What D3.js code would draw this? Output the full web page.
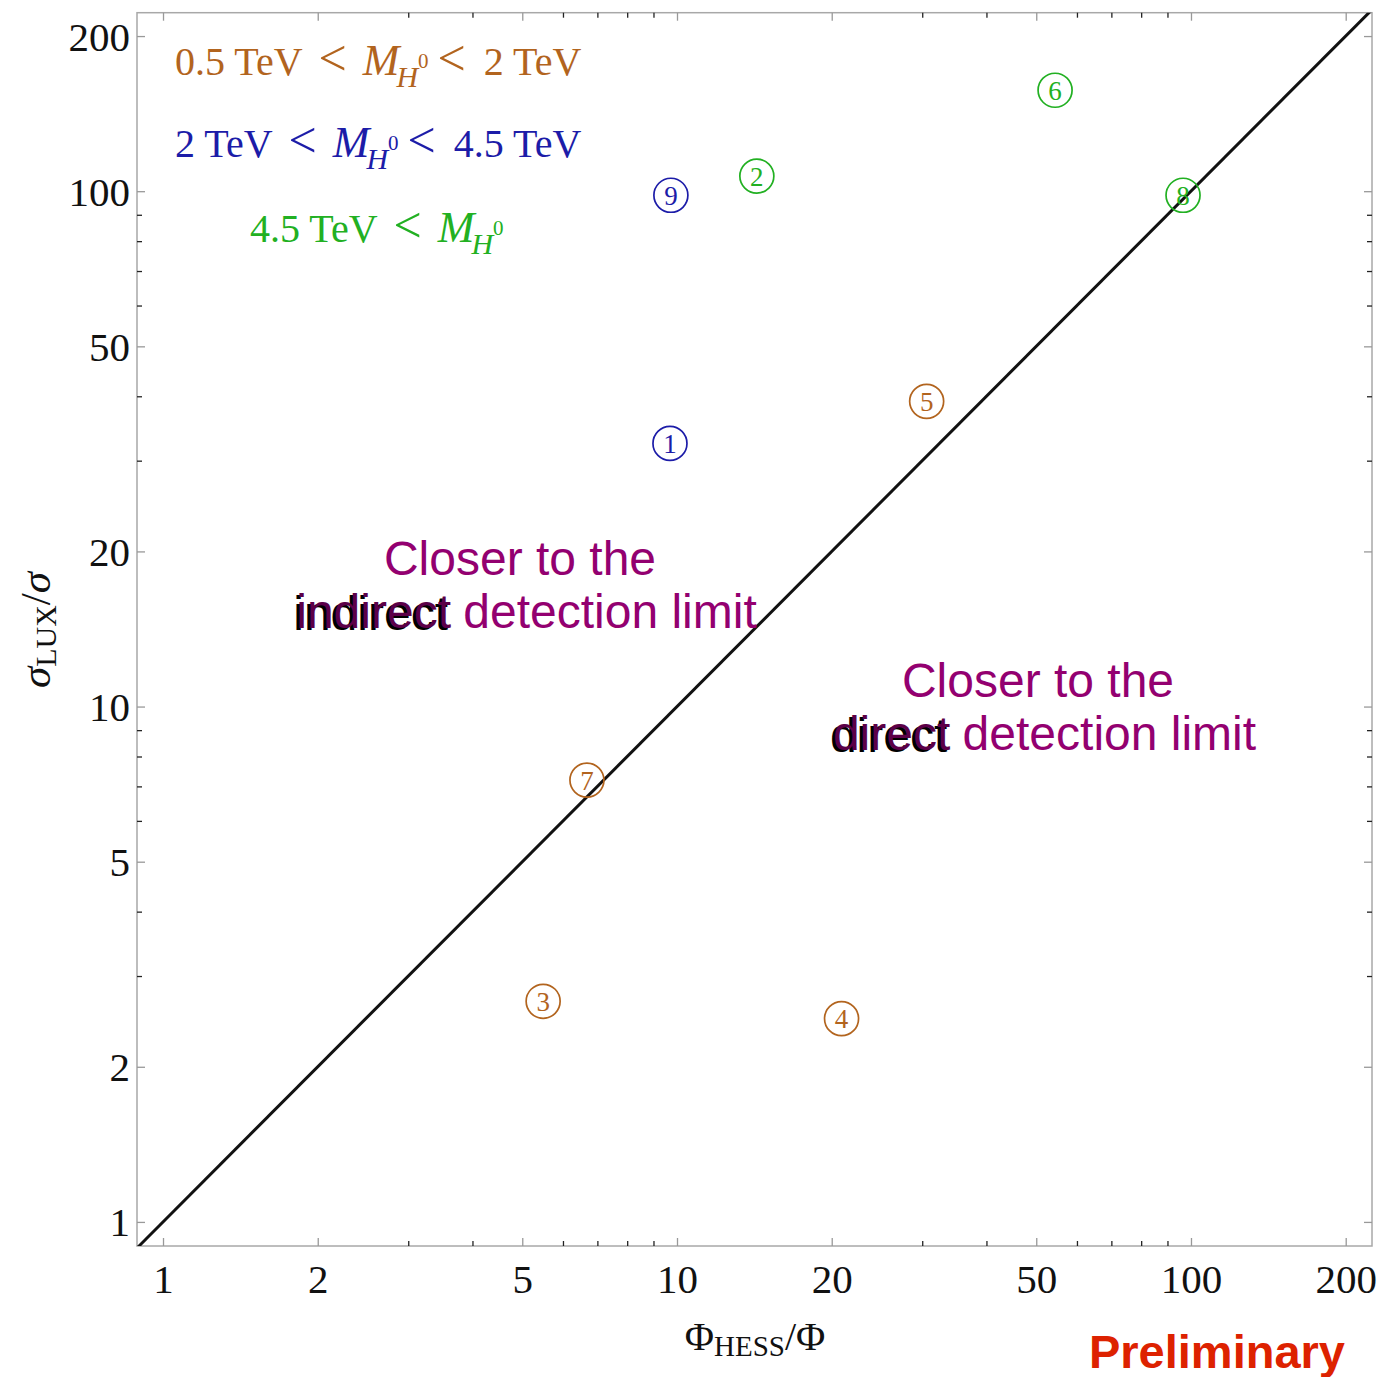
<!DOCTYPE html>
<html>
<head>
<meta charset="utf-8">
<script src="https://cdn.jsdelivr.net/npm/d3@7"></script>
<style>
  html, body { margin: 0; padding: 0; background: #fff; }
  svg { display: block; }
</style>
</head>
<body>
<svg id="chart" width="1386" height="1377"></svg>
<script>
// ---------- data ----------
const pointIds   = [1, 2, 3, 4, 5, 6, 7, 8, 9];
const phiRatio   = [9.69, 14.3, 5.49, 20.9, 30.6, 54.4, 6.68, 96.5, 9.73];   // Φ_HESS/Φ
const sigmaRatio = [32.4, 107, 2.68, 2.48, 39.1, 157, 7.2, 98.2, 98.2];      // σ_LUX/σ
const massGroup  = [1, 2, 0, 0, 0, 2, 0, 2, 1];

const groupColors = ["#b2641e", "#1c1ca8", "#22b022"];
const groupLabelPre  = ["0.5 TeV", "2 TeV", "4.5 TeV"];
const groupLabelPost = ["2 TeV", "4.5 TeV", ""];

const majorTicks = [1, 2, 5, 10, 20, 50, 100, 200];
const majorTickLabels = ["1", "2", "5", "10", "20", "50", "100", "200"];
const minorTicks = [3, 4, 6, 7, 8, 9, 30, 40, 60, 70, 80, 90];

const xDomain = [0.89, 225];
const yDomain = [0.898, 222];

// ---------- layout ----------
const L = 137, R = 1372, T = 12.7, B = 1246;
const svg = d3.select("#chart");

const x = d3.scaleLog().domain(xDomain).range([L, R]);
const y = d3.scaleLog().domain(yDomain).range([B, T]);

const serif = "'Liberation Serif', 'Times New Roman', serif";
const sans = "'Liberation Sans', Arial, sans-serif";
const frameColor = "#a8a8a8";

svg.append("defs").append("clipPath").attr("id", "clip")
  .append("rect").attr("x", L).attr("y", T).attr("width", R - L).attr("height", B - T);

// frame
svg.append("rect").attr("x", L).attr("y", T).attr("width", R - L).attr("height", B - T)
  .attr("fill", "none").attr("stroke", frameColor).attr("stroke-width", 1.5);

function styleAxis(g, color, labels) {
  g.select(".domain").remove();
  g.selectAll(".tick line").attr("stroke", color).attr("stroke-width", 1.3);
  g.selectAll(".tick text")
    .attr("font-family", serif).attr("font-size", 41).attr("fill", "#111");
  if (!labels) g.selectAll(".tick text").remove();
}
const fmt = (d) => majorTickLabels[majorTicks.indexOf(d)];

// bottom major (labelled)
svg.append("g").attr("transform", `translate(0,${B})`)
  .call(d3.axisBottom(x).tickValues(majorTicks).tickFormat(fmt).tickSizeInner(-8).tickSizeOuter(0).tickPadding(18))
  .call(g => styleAxis(g, "#999", true))
  .call(g => g.selectAll(".tick text").attr("dy", "0.71em"));
// bottom minor
svg.append("g").attr("transform", `translate(0,${B})`)
  .call(d3.axisBottom(x).tickValues(minorTicks).tickFormat("").tickSizeInner(-5).tickSizeOuter(0))
  .call(g => styleAxis(g, "#222", false));
// top
svg.append("g").attr("transform", `translate(0,${T})`)
  .call(d3.axisTop(x).tickValues(majorTicks).tickFormat("").tickSizeInner(-8).tickSizeOuter(0))
  .call(g => styleAxis(g, "#999", false));
svg.append("g").attr("transform", `translate(0,${T})`)
  .call(d3.axisTop(x).tickValues(minorTicks).tickFormat("").tickSizeInner(-5).tickSizeOuter(0))
  .call(g => styleAxis(g, "#222", false));
// left major (labelled)
svg.append("g").attr("transform", `translate(${L},0)`)
  .call(d3.axisLeft(y).tickValues(majorTicks).tickFormat(fmt).tickSizeInner(-8).tickSizeOuter(0).tickPadding(7))
  .call(g => styleAxis(g, "#999", true))
  .call(g => g.selectAll(".tick text").attr("dy", "0.34em"));
svg.append("g").attr("transform", `translate(${L},0)`)
  .call(d3.axisLeft(y).tickValues(minorTicks).tickFormat("").tickSizeInner(-5).tickSizeOuter(0))
  .call(g => styleAxis(g, "#222", false));
// right
svg.append("g").attr("transform", `translate(${R},0)`)
  .call(d3.axisRight(y).tickValues(majorTicks).tickFormat("").tickSizeInner(-8).tickSizeOuter(0))
  .call(g => styleAxis(g, "#999", false));
svg.append("g").attr("transform", `translate(${R},0)`)
  .call(d3.axisRight(y).tickValues(minorTicks).tickFormat("").tickSizeInner(-5).tickSizeOuter(0))
  .call(g => styleAxis(g, "#222", false));

// diagonal y = x
const diag = [0.85, 240];
svg.append("line").attr("clip-path", "url(#clip)")
  .attr("x1", x(diag[0])).attr("y1", y(diag[0]))
  .attr("x2", x(diag[1])).attr("y2", y(diag[1]))
  .attr("stroke", "#111").attr("stroke-width", 3);

// axis labels
const xl = svg.append("text").attr("x", 755).attr("y", 1350)
  .attr("text-anchor", "middle").attr("font-family", serif).attr("font-size", 40).attr("fill", "#111");
xl.append("tspan").text("Φ");
xl.append("tspan").attr("font-size", 29).attr("dy", 6).text("HESS");
xl.append("tspan").attr("dy", -6).text("/Φ");

const yl = svg.append("text").attr("transform", "translate(50,630) rotate(-90)")
  .attr("text-anchor", "middle").attr("font-family", serif).attr("font-size", 43).attr("fill", "#111");
yl.append("tspan").attr("font-style", "italic").text("σ");
yl.append("tspan").attr("font-size", 30).attr("dy", 6).text("LUX");
yl.append("tspan").attr("dy", -6).text("/");
yl.append("tspan").attr("font-style", "italic").text("σ");

// legend (mass ranges)
const legendPos = [[175, 75], [175, 157], [250, 242]];
groupColors.forEach((c, i) => {
  const t = svg.append("text").attr("x", legendPos[i][0]).attr("y", legendPos[i][1])
    .attr("font-family", serif).attr("font-size", 40).attr("fill", c);
  t.append("tspan").text(groupLabelPre[i]);
  t.append("tspan").attr("dx", 16).attr("font-size", 50).text("<");
  t.append("tspan").attr("dx", 16).attr("font-style", "italic").attr("font-size", 44).text("M");
  t.append("tspan").attr("font-style", "italic").attr("font-size", 30).attr("dx", -3).attr("dy", 12).text("H");
  t.append("tspan").attr("font-size", 21).attr("dy", -19).text("0");
  if (groupLabelPost[i]) {
    t.append("tspan").attr("dx", 9).attr("dy", 7).attr("font-size", 50).text("<");
    t.append("tspan").attr("dx", 18).text(groupLabelPost[i]);
  }
});

// points (circled numbers)
const pts = svg.append("g").selectAll("g").data(pointIds).join("g")
  .attr("transform", (d, i) => `translate(${x(phiRatio[i])},${y(sigmaRatio[i])})`);
pts.append("circle").attr("r", 17).attr("fill", "none")
  .attr("stroke", (d, i) => groupColors[massGroup[i]]).attr("stroke-width", 1.7);
pts.append("text").attr("text-anchor", "middle").attr("dy", "0.35em")
  .attr("font-family", serif).attr("font-size", 27)
  .attr("fill", (d, i) => groupColors[massGroup[i]]).text(d => d);

// annotations
const purple = "#930070";
function annot(cx, y1, word, rest) {
  svg.append("text").attr("x", cx - 7).attr("y", y1).attr("text-anchor", "middle")
    .attr("font-family", sans).attr("font-size", 48).attr("fill", purple).text("Closer to the");
  const t2 = svg.append("text").attr("x", cx).attr("y", y1 + 53).attr("text-anchor", "middle")
    .attr("font-family", sans).attr("font-size", 48).attr("fill", purple).attr("xml:space", "preserve");
  t2.append("tspan").attr("fill", "#000").attr("dx", -2).attr("dy", 2).text(word);
  t2.append("tspan").attr("fill", purple).attr("dx", 2).attr("dy", -2).text(" " + rest);
  const w = svg.append("text").attr("x", cx).attr("y", y1 + 53).attr("text-anchor", "middle")
    .attr("font-family", sans).attr("font-size", 48).attr("fill", "none").attr("xml:space", "preserve");
  w.append("tspan").attr("fill", "#5c0048").text(word);
  w.append("tspan").attr("fill", "none").text(" " + rest);
}
annot(527, 575, "indirect", "detection limit");
annot(1045, 697, "direct", "detection limit");

// preliminary
svg.append("text").attr("x", 1345).attr("y", 1368).attr("text-anchor", "end")
  .attr("font-family", sans).attr("font-weight", "bold").attr("font-size", 47)
  .attr("fill", "#dd2200").text("Preliminary");
</script>
</body>
</html>
